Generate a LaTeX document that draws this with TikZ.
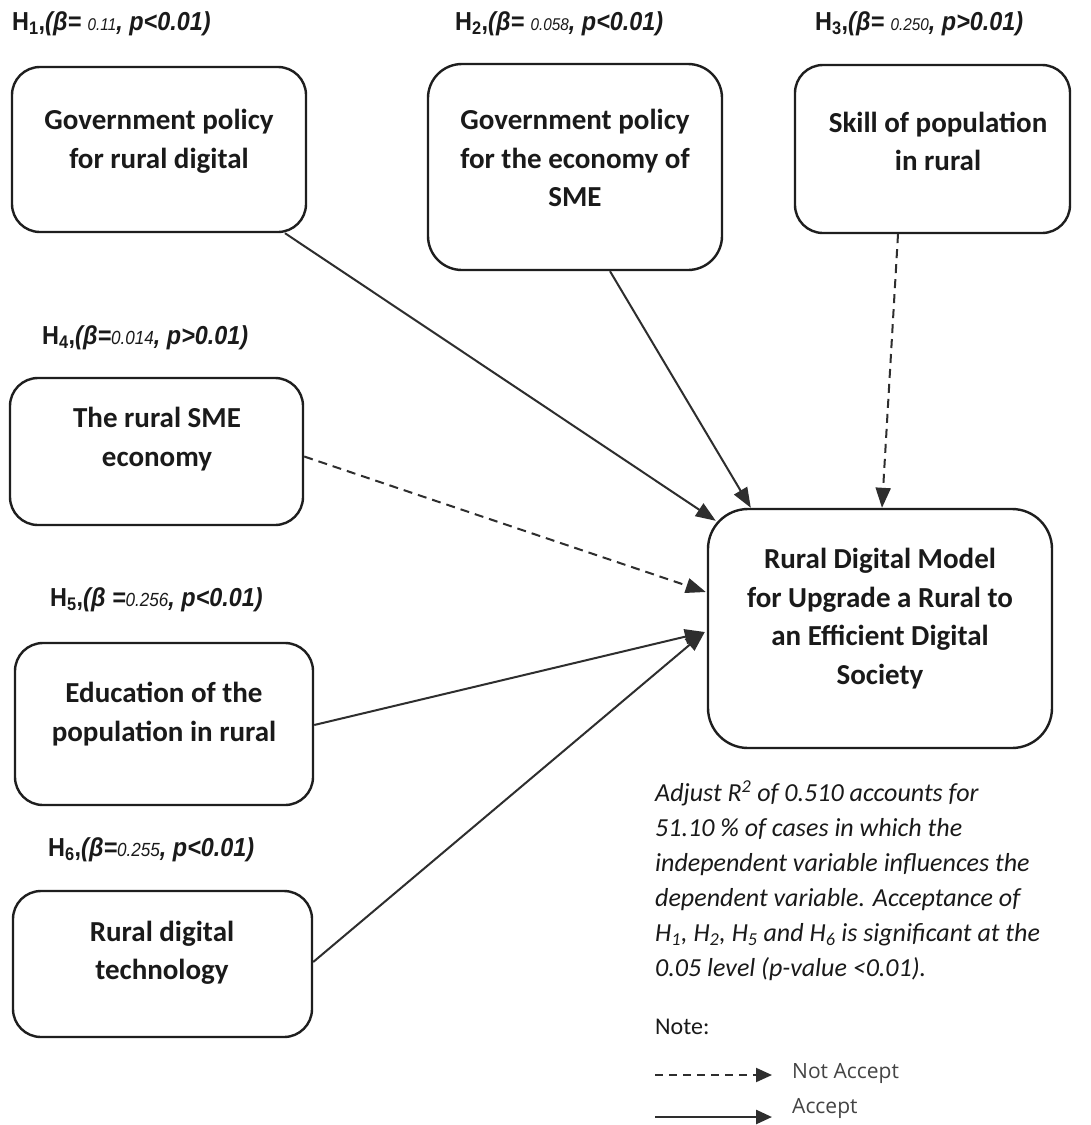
\documentclass[tikz,border=0pt]{standalone}
\usepackage{fontspec}
\setmainfont{Carlito}
\newfontfamily\hfont[FakeStretch=0.9]{Liberation Sans}
\newfontfamily\legfont{Open Sans}
\usetikzlibrary{arrows.meta,calc}
\definecolor{linec}{HTML}{1E1E1E}
\definecolor{arr}{HTML}{2E2E2E}
\definecolor{txt}{HTML}{1A1A1A}
\definecolor{legc}{HTML}{444444}
\tikzset{
  box/.style={draw=linec, line width=2.4pt, rounded corners=28pt, inner sep=0pt},
  btext/.style={font=\bfseries\fontsize{29}{38.5}\selectfont, align=center, text=txt, inner sep=0pt},
  hlab/.style={anchor=west, inner sep=0pt, text=txt, font=\hfont\fontsize{26}{26}\selectfont},
  acc/.style={draw=arr, line width=2pt, -{Triangle[length=20pt,width=15pt]}},
  nacc/.style={acc, dash pattern=on 9pt off 6pt},
  legacc/.style={draw=arr, line width=2.6pt, -{Triangle[length=16pt,width=14pt]}},
  legnacc/.style={legacc, line width=2pt, dash pattern=on 8pt off 6pt},
  legtext/.style={anchor=west, inner sep=0pt, text=legc, font=\legfont\fontsize{21}{21}\selectfont},
}
\begin{document}
\begin{tikzpicture}[x=1pt,y=-1pt]
\useasboundingbox (0,0) rectangle (1091,1125);
\fill[white] (0,0) rectangle (1091,1125);

% hypothesis labels
\node[hlab] (h1) at (12,24) {\textbf{H\textsubscript{1},\textit{(β= {\mdseries\fontsize{17}{17}\selectfont 0.11}, p<0.01)}}};
\node[hlab] (h2) at (455,24) {\textbf{H\textsubscript{2},\textit{(β= {\mdseries\fontsize{17}{17}\selectfont 0.058}, p<0.01)}}};
\node[hlab] (h3) at (815,24) {\textbf{H\textsubscript{3},\textit{(β= {\mdseries\fontsize{17}{17}\selectfont 0.250}, p>0.01)}}};
\node[hlab] (h4) at (42,338) {\textbf{H\textsubscript{4},\textit{(β={\mdseries\fontsize{19}{19}\selectfont 0.014}, p>0.01)}}};
\node[hlab] (h5) at (50,600) {\textbf{H\textsubscript{5},\textit{(β ={\mdseries\fontsize{19}{19}\selectfont 0.256}, p<0.01)}}};
\node[hlab] (h6) at (48,850) {\textbf{H\textsubscript{6},\textit{(β={\mdseries\fontsize{19}{19}\selectfont 0.255}, p<0.01)}}};

% boxes
\node[box, minimum width=294pt, minimum height=165pt] (b1) at (159,149.5) {};
\node[btext] (t1) at (159,141.5) {Government policy\\for rural digital};
\node[box, minimum width=294pt, minimum height=206pt, rounded corners=34pt] (b2) at (575,167) {};
\node[btext] (t2) at (575,158) {Government policy\\for the economy of\\SME};
\node[box, minimum width=275pt, minimum height=168pt] (b3) at (932.5,149) {};
\node[btext] (t3) at (938,141.5) {Skill of population\\in rural};
\node[box, minimum width=293pt, minimum height=147pt] (b4) at (156.5,451.5) {};
\node[btext] (t4) at (157,439) {The rural SME\\economy};
\node[box, minimum width=298pt, minimum height=162pt] (b5) at (164,724) {};
\node[btext] (t5) at (164,714) {Education of the\\population in rural};
\node[box, minimum width=299pt, minimum height=146pt] (b6) at (162.5,964) {};
\node[btext] (t6) at (162,953) {Rural digital\\technology};
\node[box, minimum width=344pt, minimum height=239pt, rounded corners=40pt] (T) at (880,628.5) {};
\node[btext] (tT) at (880,618.5) {Rural Digital Model\\for Upgrade a Rural to\\an Efficient Digital\\Society};

% connectors
\draw[acc] ($(b1.south)+(126,0)$) -- ($(T.north west)+(9,13)$);
\draw[acc] ($(b2.south)+(35,0)$) -- ($(T.north west)+(44,0)$);
\draw[nacc] ($(b3.south)+(-34.5,0)$) -- ($(T.north)+(2,0)$);
\draw[nacc] ($(b4.east)+(0,5)$) -- ($(T.west)+(-1,-36.5)$);
\draw[acc] ($(b5.east)+(0,1)$) -- ($(T.west)+(-2,3.5)$);
\draw[acc] ($(b6.east)+(0,-2)$) -- ($(T.west)+(-2,3.5)$);

% note
\node[anchor=west, inner sep=0pt, align=left, text=txt, font=\itshape\fontsize{26}{35}\selectfont] (note) at (655,880.5)
 {Adjust \textit{R}\textsuperscript{2} of 0.510 accounts for\\
  51.10 \% of cases in which the\\
  independent variable influences the\\
  dependent variable. Acceptance of\\
  H\textsubscript{1}, H\textsubscript{2}, H\textsubscript{5} and H\textsubscript{6} is significant at the\\
  0.05 level (p-value <0.01).};
\node[anchor=west, inner sep=0pt, text=txt, font=\fontsize{24}{24}\selectfont] (notehead) at (655,1027) {Note:};

% legend
\coordinate (d1) at (655,1075);
\coordinate (d2) at (772,1075);
\draw[legnacc] (d1) -- (d2);
\node[legtext] (na) at (792,1073) {Not Accept};
\coordinate (s1) at (655,1117);
\coordinate (s2) at (772,1117);
\draw[legacc] (s1) -- (s2);
\node[legtext] (ac) at (792,1108) {Accept};
\end{tikzpicture}
\end{document}
